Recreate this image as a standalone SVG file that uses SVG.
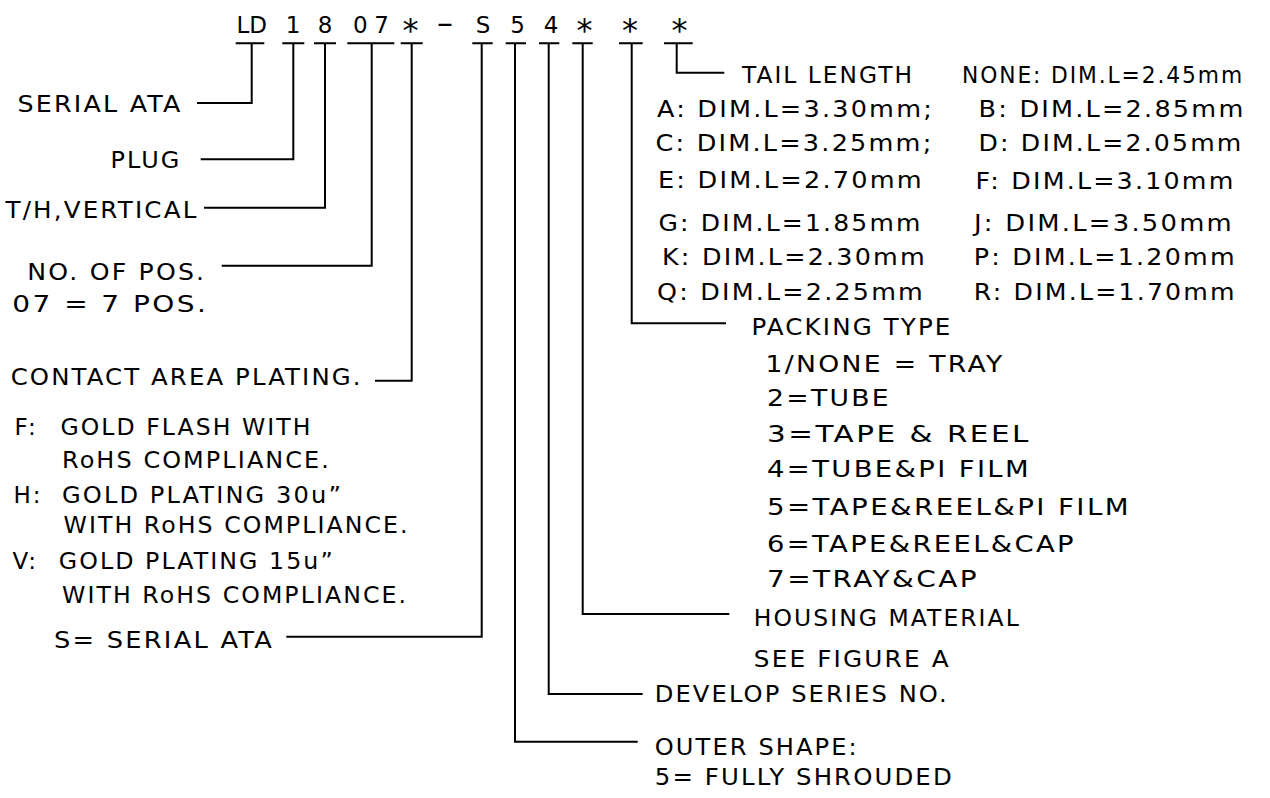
<svg xmlns="http://www.w3.org/2000/svg" width="1270" height="798" viewBox="0 0 1270 798">
<style>
text{font-family:"DejaVu Sans","Liberation Sans",Arial,sans-serif;font-size:23px;fill:#000;letter-spacing:2px}
.c{fill:none;stroke:#000;stroke-width:2;stroke-linecap:square}
.h{text-anchor:middle;letter-spacing:0}
.s{font-size:32px}
.d{font-size:30px}
</style>
<rect width="1270" height="798" fill="#fff"/>
<g id="code">
<text class="h" x="251.7" y="33.3">LD</text>
<text class="h" x="293" y="33.3">1</text>
<text class="h" x="325" y="33.3">8</text>
<text class="h" x="371" y="33.3" textLength="36" lengthAdjust="spacing">07</text>
<text class="h s" x="410.5" y="41">*</text>
<text class="h d" x="445" y="33.3" textLength="16" lengthAdjust="spacingAndGlyphs">–</text>
<text class="h" x="483" y="33.3">S</text>
<text class="h" x="517.5" y="33.3">5</text>
<text class="h" x="551" y="33.3">4</text>
<text class="h s" x="584.5" y="41">*</text>
<text class="h s" x="630" y="41">*</text>
<text class="h s" x="679.5" y="41">*</text>
</g>
<g id="connectors">
<path class="c" d="M236.7 43.3H263.3M251.7 43.3V103H198"/>
<path class="c" d="M283.3 43.3H303.3M293.3 43.3V159.3H201.7"/>
<path class="c" d="M315 43.3H335M325 43.3V207.7H205"/>
<path class="c" d="M348.3 43.3H393.3M371.7 43.3V265.7H222.7"/>
<path class="c" d="M401.7 43.3H421.7M411.7 43.3V380.7H376"/>
<path class="c" d="M473.3 43.3H491.7M481.7 43.3V636.7H287.3"/>
<path class="c" d="M506.7 43.3H525M515 43.3V741.7H636.7"/>
<path class="c" d="M540 43.3H558.3M548.7 43.3V694H641.7"/>
<path class="c" d="M573.3 43.3H591.7M582.7 43.3V614H728.3"/>
<path class="c" d="M620 43.3H641.7M631.7 43.3V323.3H725"/>
<path class="c" d="M665 43.3H691.7M676.7 43.3V72.7H723.3"/>
</g>
<g id="serial-ata"><text x="17.5" y="111.7" textLength="165" lengthAdjust="spacingAndGlyphs">SERIAL ATA</text></g>
<g id="plug"><text x="110.5" y="168.3" textLength="71" lengthAdjust="spacingAndGlyphs">PLUG</text></g>
<g id="th-vertical"><text x="5.5" y="218" textLength="193" lengthAdjust="spacingAndGlyphs">T/H,VERTICAL</text></g>
<g id="no-of-pos">
<text x="27.3" y="280" textLength="179" lengthAdjust="spacingAndGlyphs">NO. OF POS.</text>
<text x="12.3" y="311.7" textLength="196" lengthAdjust="spacingAndGlyphs">07 = 7 POS.</text>
</g>
<g id="plating">
<text x="10.7" y="385" textLength="352" lengthAdjust="spacingAndGlyphs">CONTACT AREA PLATING.</text>
<text x="14.5" y="435">F:</text>
<text x="60.5" y="435" textLength="252" lengthAdjust="spacingAndGlyphs">GOLD FLASH WITH</text>
<text x="62" y="468.3" textLength="269" lengthAdjust="spacingAndGlyphs">RoHS COMPLIANCE.</text>
<text x="13.5" y="502.7">H:</text>
<text x="62" y="502.7" textLength="281" lengthAdjust="spacingAndGlyphs">GOLD PLATING 30u”</text>
<text x="63.5" y="533.3" textLength="346" lengthAdjust="spacingAndGlyphs">WITH RoHS COMPLIANCE.</text>
<text x="12.5" y="569.3">V:</text>
<text x="58.8" y="569.3" textLength="276" lengthAdjust="spacingAndGlyphs">GOLD PLATING 15u”</text>
<text x="62" y="603.3" textLength="346" lengthAdjust="spacingAndGlyphs">WITH RoHS COMPLIANCE.</text>
</g>
<g id="s-serial-ata"><text x="54" y="648.3" textLength="220" lengthAdjust="spacingAndGlyphs">S= SERIAL ATA</text></g>
<g id="tail-length">
<text x="742" y="83.3" textLength="172" lengthAdjust="spacingAndGlyphs">TAIL LENGTH</text>
<text x="962" y="83.3" textLength="282" lengthAdjust="spacingAndGlyphs">NONE: DIM.L=2.45mm</text>
<text x="657" y="116.7" textLength="277" lengthAdjust="spacingAndGlyphs">A: DIM.L=3.30mm;</text>
<text x="978.5" y="116.7" textLength="267" lengthAdjust="spacingAndGlyphs">B: DIM.L=2.85mm</text>
<text x="655.5" y="150.5" textLength="278" lengthAdjust="spacingAndGlyphs">C: DIM.L=3.25mm;</text>
<text x="978.5" y="151" textLength="265" lengthAdjust="spacingAndGlyphs">D: DIM.L=2.05mm</text>
<text x="658" y="188" textLength="266" lengthAdjust="spacingAndGlyphs">E: DIM.L=2.70mm</text>
<text x="975.5" y="189" textLength="260" lengthAdjust="spacingAndGlyphs">F: DIM.L=3.10mm</text>
<text x="658.5" y="231" textLength="264" lengthAdjust="spacingAndGlyphs">G: DIM.L=1.85mm</text>
<text x="974" y="231" textLength="260" lengthAdjust="spacingAndGlyphs">J: DIM.L=3.50mm</text>
<text x="662" y="265" textLength="265" lengthAdjust="spacingAndGlyphs">K: DIM.L=2.30mm</text>
<text x="973.8" y="265" textLength="263" lengthAdjust="spacingAndGlyphs">P: DIM.L=1.20mm</text>
<text x="657" y="300" textLength="268" lengthAdjust="spacingAndGlyphs">Q: DIM.L=2.25mm</text>
<text x="973.8" y="300" textLength="263" lengthAdjust="spacingAndGlyphs">R: DIM.L=1.70mm</text>
</g>
<g id="packing-type">
<text x="751.5" y="335" textLength="201" lengthAdjust="spacingAndGlyphs">PACKING TYPE</text>
<text x="765.5" y="371.7" textLength="239" lengthAdjust="spacingAndGlyphs">1/NONE = TRAY</text>
<text x="767" y="406" textLength="124" lengthAdjust="spacingAndGlyphs">2=TUBE</text>
<text x="767" y="441.7" textLength="264" lengthAdjust="spacingAndGlyphs">3=TAPE &amp; REEL</text>
<text x="767" y="476.7" textLength="264" lengthAdjust="spacingAndGlyphs">4=TUBE&amp;PI FILM</text>
<text x="767" y="515" textLength="364" lengthAdjust="spacingAndGlyphs">5=TAPE&amp;REEL&amp;PI FILM</text>
<text x="767" y="551.7" textLength="309" lengthAdjust="spacingAndGlyphs">6=TAPE&amp;REEL&amp;CAP</text>
<text x="767" y="586.7" textLength="212" lengthAdjust="spacingAndGlyphs">7=TRAY&amp;CAP</text>
</g>
<g id="housing-material">
<text x="753.8" y="626" textLength="267" lengthAdjust="spacingAndGlyphs">HOUSING MATERIAL</text>
<text x="753.8" y="666.7" textLength="197" lengthAdjust="spacingAndGlyphs">SEE FIGURE A</text>
</g>
<g id="develop-series"><text x="654.8" y="701.7" textLength="294" lengthAdjust="spacingAndGlyphs">DEVELOP SERIES NO.</text></g>
<g id="outer-shape">
<text x="654.8" y="755" textLength="204" lengthAdjust="spacingAndGlyphs">OUTER SHAPE:</text>
<text x="654.8" y="785" textLength="299" lengthAdjust="spacingAndGlyphs">5= FULLY SHROUDED</text>
</g>
</svg>
